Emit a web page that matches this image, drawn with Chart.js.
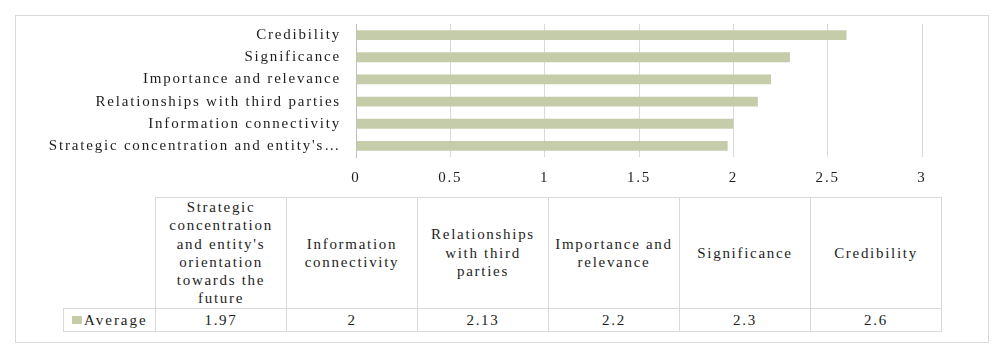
<!DOCTYPE html>
<html>
<head>
<meta charset="utf-8">
<script src="https://cdn.jsdelivr.net/npm/chart.js@4/dist/chart.umd.min.js"></script>
<style>
  html, body { margin:0; padding:0; background:#fff; }
  body { width:1005px; height:356px; position:relative; overflow:hidden;
         font-family:'Liberation Serif'; color:#1e1e1e; }
  #frame { position:absolute; left:15px; top:15px; width:974px; height:328px;
           border:1px solid #d9d9d9; box-sizing:border-box; }
  #chartBox { position:absolute; left:0; top:0; width:1005px; height:195px; }
  #tbl { position:absolute; left:63px; top:197px; border-collapse:collapse;
         table-layout:fixed; width:878px; font-family:'Liberation Serif'; font-size:15px; letter-spacing:1.7px; }
  #tbl td { border:1px solid #d9d9d9; text-align:center; vertical-align:middle;
            padding:0 2px; line-height:18.3px; }
  #tbl tr.head td { height:109px; }
  #tbl tr.head td.blank { border:none; }
  #tbl tr.data td { height:22px; }
  #tbl td.leg { text-align:left; padding-left:8px; white-space:nowrap; letter-spacing:2px; }
  .sw { display:inline-block; width:10px; height:8px; background:#c4cca9; margin-right:2px; vertical-align:1px; }
</style>
</head>
<body>
<div id="frame"></div>
<div id="chartBox"><canvas id="c"></canvas></div>
<table id="tbl"></table>
<script>
const categories = [
  "Strategic concentration and entity's orientation towards the future",
  "Information connectivity",
  "Relationships with third parties",
  "Importance and relevance",
  "Significance",
  "Credibility"
];
const axisLabels = [
  "Strategic concentration and entity's\u2026",
  "Information connectivity",
  "Relationships with third parties",
  "Importance and relevance",
  "Significance",
  "Credibility"
];
const averageValues = [1.97, 2, 2.13, 2.2, 2.3, 2.6];
const seriesName = "Average";
const xTickValues = [0, 0.5, 1, 1.5, 2, 2.5, 3];

const barColor = '#c4cca9';
const font = { family: 'Liberation Serif', size: 15 };

const spacingPlugin = {
  id: 'spacing',
  beforeDraw(chart) { chart.ctx.letterSpacing = '1.8px'; }
};

new Chart(document.getElementById('c'), {
  type: 'bar',
  data: {
    labels: axisLabels,
    datasets: [{
      label: seriesName,
      data: averageValues,
      backgroundColor: barColor,
      borderWidth: 0,
      barPercentage: 0.55,
      categoryPercentage: 0.8
    }]
  },
  options: {
    indexAxis: 'y',
    responsive: true,
    maintainAspectRatio: false,
    animation: false,
    layout: { padding: { top: 22, right: 83, bottom: 0, left: 0 } },
    plugins: { legend: { display: false }, tooltip: { enabled: false } },
    scales: {
      x: {
        min: xTickValues[0],
        max: xTickValues[xTickValues.length - 1],
        afterBuildTicks(s) { s.ticks = xTickValues.map(v => ({ value: v })); },
        grid: { color: '#d9d9d9', drawTicks: false, lineWidth: 1 },
        border: { display: false },
        ticks: { padding: 12, color: '#1e1e1e', font, callback: v => String(v) },
        afterFit(s) { s.height = 38; }
      },
      y: {
        reverse: true,
        grid: { display: false, drawTicks: false },
        border: { display: true, color: '#bfbfbf', width: 1 },
        ticks: { padding: 15, color: '#1e1e1e', font, autoSkip: false },
        afterFit(s) { s.width = 356; }
      }
    }
  },
  plugins: [spacingPlugin]
});

// data table
const tbl = document.getElementById('tbl');
const colgroup = document.createElement('colgroup');
const widths = [92].concat(categories.map(() => 131));
widths.forEach(w => { const c = document.createElement('col'); c.style.width = w + 'px'; colgroup.appendChild(c); });
tbl.appendChild(colgroup);
const head = document.createElement('tr'); head.className = 'head';
const blank = document.createElement('td'); blank.className = 'blank'; head.appendChild(blank);
categories.forEach(c => { const td = document.createElement('td'); td.textContent = c; head.appendChild(td); });
tbl.appendChild(head);
const row = document.createElement('tr'); row.className = 'data';
const leg = document.createElement('td'); leg.className = 'leg';
const sw = document.createElement('span'); sw.className = 'sw';
leg.appendChild(sw); leg.appendChild(document.createTextNode(seriesName));
row.appendChild(leg);
averageValues.forEach(v => { const td = document.createElement('td'); td.textContent = String(v); row.appendChild(td); });
tbl.appendChild(row);
</script>
</body>
</html>
